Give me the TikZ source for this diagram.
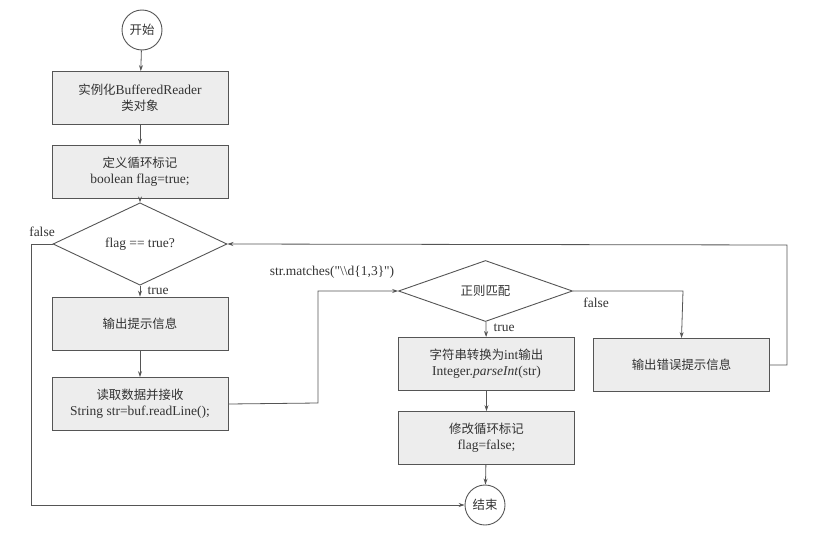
\documentclass[tikz,border=0pt]{standalone}
\usepackage{fontspec}
\setmainfont{Liberation Serif}
\newfontfamily\qfont{Liberation Serif}[Ligatures=TeXOff]
\newfontfamily\cjk[Scale=0.92]{Noto Sans CJK SC}
\usetikzlibrary{shapes.geometric,arrows.meta}
\definecolor{linec}{HTML}{555555}
\definecolor{textc}{HTML}{333333}
\definecolor{boxfill}{HTML}{EDEDED}
\tikzset{
  stepbox/.style={draw=linec, fill=boxfill, line width=0.9pt, minimum width=176pt, minimum height=53pt, inner sep=2pt, align=center, text=textc, font=\fontsize{13.5}{16}\selectfont},
  decide/.style={draw=linec, fill=white, line width=0.9pt, diamond, minimum width=174pt, minimum height=52pt, inner sep=0pt, align=center, text=textc, font=\fontsize{13.5}{16}\selectfont},
  term/.style={draw=linec, fill=white, line width=0.9pt, circle, minimum size=40pt, inner sep=0pt, text=textc, font=\cjk\fontsize{13.5}{16}\selectfont},
  conn/.style={draw=linec, line width=0.8pt, -{Stealth[length=6pt,width=4pt]}},
  lab/.style={text=textc, font=\fontsize{13.5}{16}\selectfont}
}
\begin{document}
\begin{tikzpicture}[x=1pt,y=-1pt]
\useasboundingbox (0,0) rectangle (819,538);
\node[term] (start) at (142,30) {开始};
\node[stepbox] (b1) at (140,98) {{\cjk 实例化}BufferedReader\\{\cjk 类对象}};
\node[stepbox] (b2) at (140,171.5) {{\cjk 定义循环标记}\\boolean flag=true;};
\node[decide] (d1) at (140,244) {flag == true?};
\node[stepbox] (b3) at (140,323.5) {{\cjk 输出提示信息}};
\node[stepbox] (b4) at (140,404) {{\cjk 读取数据并接收}\\String str=buf.readLine();};
\node[decide] (d2) at (485.5,291) {{\cjk 正则匹配}};
\node[stepbox] (b5) at (486.5,364) {{\cjk 字符串转换为}int{\cjk 输出}\\Integer.\textit{parseInt}(str)};
\node[stepbox] (b6) at (486.5,438) {{\cjk 修改循环标记}\\flag=false;};
\node[term] (end) at (485,505) {结束};
\node[stepbox] (b7) at (681.5,365) {{\cjk 输出错误提示信息}};
\coordinate (c1) at (318,403);
\coordinate (c2) at (318,291);
\coordinate (c3) at (683,291);
\coordinate (c4) at (787,365);
\coordinate (c5) at (787,245);
\coordinate (c6) at (31,244);
\coordinate (c7) at (31,505);
\draw[conn] (start) -- (b1);
\draw[conn] (b1) -- (b2);
\draw[conn] (b2) -- (d1);
\draw[conn] (d1) -- node[lab, right, pos=0.45, xshift=4pt] {true} (b3);
\draw[conn] (b3) -- (b4);
\draw[conn] (b4.east) -- (c1) -- (c2) -- (d2.west);
\draw[conn] (d2) -- node[lab, right, pos=0.4, xshift=4pt] {true} (b5);
\draw[conn] (b5) -- (b6);
\draw[conn] (b6) -- (end);
\draw[conn] (d2.east) -- (c3) -- (b7.north);
\draw[conn] (b7.east) -- (c4) -- (c5) -- (d1.east);
\draw[conn] (d1.west) -- (c6) -- (c7) -- (end.west);
\node[lab] (lf1) at (42,232) {false};
\node[lab] (lf2) at (596,303) {false};
\node[lab] (lm) at (332,272) {\qfont str.matches("\textbackslash\textbackslash d\{1,3\}")};
\end{tikzpicture}
\end{document}
